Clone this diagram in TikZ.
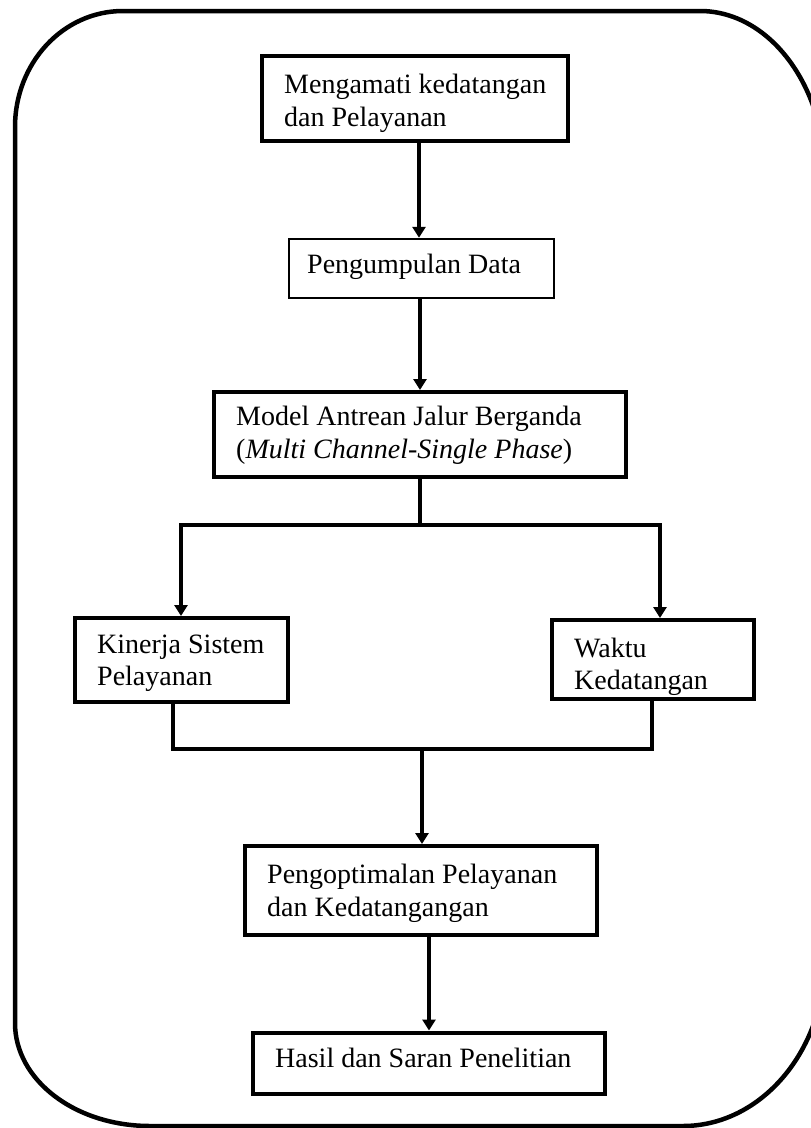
\documentclass[tikz,border=0pt]{standalone}
\usepackage{fontspec}
\setmainfont{Liberation Serif}
\usetikzlibrary{arrows.meta}
\tikzset{
  stepbox/.style={draw=black, line width=4pt, rectangle, inner sep=0pt, anchor=center},
  thinbox/.style={stepbox, line width=2.5pt},
  txt/.style={anchor=base west, inner sep=0pt, font=\fontsize{28}{32}\selectfont},
  conn/.style={line width=4pt, draw=black},
  arr/.style={conn, -{Triangle[width=13pt,length=11pt]}},
}
\begin{document}
\begin{tikzpicture}[x=1pt, y=-1pt]
\useasboundingbox (0,0) rectangle (811,1128);
\fill[white] (0,0) rectangle (811,1128);
\begin{scope}
  \clip (0,0) rectangle (811,1128);
  \draw[line width=4.5pt]
    (15,127) .. controls (15,63) and (63,11) .. (123,11)
    -- (700,11) .. controls (769,11) and (825,85) .. (825,176)
    -- (825,959) .. controls (825,1051) and (761,1126) .. (683,1126)
    -- (150,1126) .. controls (75,1126) and (15,1080) .. (15,1023)
    -- cycle;
\end{scope}

% boxes
\node[stepbox, minimum width=306pt, minimum height=85pt] (b1) at (415,98.5) {};
\node[thinbox, minimum width=265pt, minimum height=59pt] (b2) at (421.5,268.5) {};
\node[stepbox, minimum width=412pt, minimum height=85pt] (b3) at (420,434.5) {};
\node[stepbox, minimum width=213pt, minimum height=84pt] (b4) at (181.5,660) {};
\node[stepbox, minimum width=202pt, minimum height=79pt] (b5) at (653,659.5) {};
\node[stepbox, minimum width=352pt, minimum height=89pt] (b6) at (421,890.5) {};
\node[stepbox, minimum width=352pt, minimum height=61pt] (b7) at (429,1063) {};

% texts
\node[txt] (t1a) at (284,93) {Mengamati kedatangan};
\node[txt] (t1b) at (284,126) {dan Pelayanan};
\node[txt] (t2) at (307,273) {Pengumpulan Data};
\node[txt] (t3a) at (236,425) {Model Antrean Jalur Berganda};
\node[txt] (t3b) at (236,458) {(\textit{Multi Channel-Single Phase})};
\node[txt] (t4a) at (97,653) {Kinerja Sistem};
\node[txt] (t4b) at (97,685) {Pelayanan};
\node[txt] (t5a) at (574,657) {Waktu};
\node[txt] (t5b) at (574,689) {Kedatangan};
\node[txt] (t6a) at (267,883) {Pengoptimalan Pelayanan};
\node[txt] (t6b) at (267,916) {dan Kedatangangan};
\node[txt] (t7) at (275,1067) {Hasil dan Saran Penelitian};

% connectors
\coordinate (a1) at (419,0);
\draw[arr] (a1 |- b1.south) -- (a1 |- b2.north);
\draw[arr] (b3.north |- b2.south) -- (b3.north);

\coordinate (s) at (420,525);
\coordinate (sl) at (181,525);
\coordinate (sr) at (660,525);
\draw[conn] (b3.south) -- (s);
\draw[arr] (s) -- (sl) -- (sl |- b4.north);
\draw[arr] (s) -- (sr) -- (sr |- b5.north);

\coordinate (jl) at (173,749);
\coordinate (jr) at (652,749);
\coordinate (jm) at (422,749);
\draw[conn] (jl |- b4.south) -- (jl) -- (jr) -- (jr |- b5.south);
\draw[arr] (jm) -- (jm |- b6.north);

\draw[arr] (b7.north |- b6.south) -- (b7.north);
\end{tikzpicture}
\end{document}
